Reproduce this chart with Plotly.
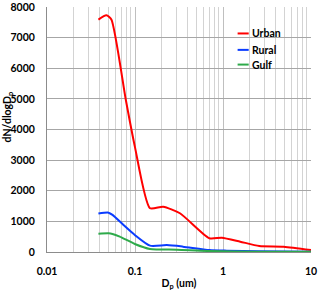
import plotly.graph_objects as go

# Urban
urban_dp = [0.0384, 0.0473, 0.0539, 0.0786, 0.0995, 0.148, 0.209, 0.324, 0.700, 0.969, 1.57, 2.58, 4.89, 10.0]
urban_n = [7590, 7730, 7590, 4970, 3450, 1430, 1480, 1265, 450, 468, 337, 196, 175, 65]
# Rural
rural_dp = [0.0384, 0.0500, 0.0555, 0.0740, 0.0995, 0.148, 0.230, 0.350, 0.700, 1.10, 2.50, 10.0]
rural_n = [1254, 1285, 1211, 883, 556, 207, 225, 175, 65, 44, 25, 10]
# Gulf
gulf_dp = [0.0384, 0.0500, 0.0555, 0.0671, 0.0995, 0.148, 0.300, 0.700, 2.50, 10.0]
gulf_n = [600, 612, 590, 502, 262, 98, 75, 30, 12, 5]

names = ["Urban", "Rural", "Gulf"]
colors = ["#FF0000", "#0A3CFF", "#2EAA4A"]
xs_all = [urban_dp, rural_dp, gulf_dp]
ys_all = [urban_n, rural_n, gulf_n]

y_ticks = [0, 1000, 2000, 3000, 4000, 5000, 6000, 7000, 8000]
x_ticks = [0.01, 0.1, 1, 10]
x_labels = ["0.01", "0.1", "1", "10"]

font_family = "Lato, 'Open Sans', sans-serif"

fig = go.Figure()
for name, xs, ys, col in zip(names, xs_all, ys_all, colors):
    fig.add_trace(go.Scatter(x=xs, y=ys, name=name, mode="lines", showlegend=False,
                             line=dict(color=col, width=2, shape="spline", smoothing=0.6)))

# manual legend (compact, like the reference)
leg_y = [0.892, 0.825, 0.765]
for name, col, ly in zip(names, colors, leg_y):
    fig.add_shape(type="line", xref="paper", yref="paper", x0=0.722, x1=0.764, y0=ly, y1=ly,
                  line=dict(color=col, width=2))
    fig.add_annotation(xref="paper", yref="paper", x=0.768, y=ly, xanchor="left", yanchor="middle",
                       text=name, showarrow=False, font=dict(size=10.5, weight="bold", color="black"))

# y-axis title
fig.add_annotation(xref="paper", yref="paper", x=-0.147, y=0.55, xanchor="center", yanchor="middle",
                   text="dN/dlogD<sub>p</sub>", textangle=-90, showarrow=False,
                   font=dict(size=10.5, weight="bold", color="black"))

fig.update_layout(
    width=320, height=291,
    margin=dict(l=47, r=9, t=7, b=39),
    paper_bgcolor="white", plot_bgcolor="white",
    font=dict(family=font_family, size=10.5, color="black"),
    showlegend=False,
    xaxis=dict(type="log", range=[-2, 1], tickvals=x_ticks, ticktext=x_labels,
               showgrid=True, gridcolor="#BFBFBF", gridwidth=1,
               minor=dict(dtick="D1", showgrid=True, gridcolor="#D3D3D3", gridwidth=1),
               showline=True, linecolor="#8C8C8C", linewidth=1, mirror=False,
               ticks="", tickfont=dict(size=10.5, weight="bold"), ticklabelstandoff=9,
               ticklabeloverflow="allow", automargin=False,
               title=dict(text="D<sub>p</sub> (um)", font=dict(size=10.5, weight="bold"), standoff=6),
               zeroline=False),
    yaxis=dict(range=[0, 8000], tickvals=y_ticks, showgrid=True, gridcolor="#A6A6A6", gridwidth=1,
               showline=True, linecolor="#8C8C8C", linewidth=1,
               ticks="", tickfont=dict(size=10.5, weight="bold"), ticklabelstandoff=9,
               ticklabeloverflow="allow", automargin=False,
               zeroline=False),
)

fig.write_html("out.html", config={"displayModeBar": False},
               post_script="document.body.style.margin='0';document.body.style.overflow='hidden';")
